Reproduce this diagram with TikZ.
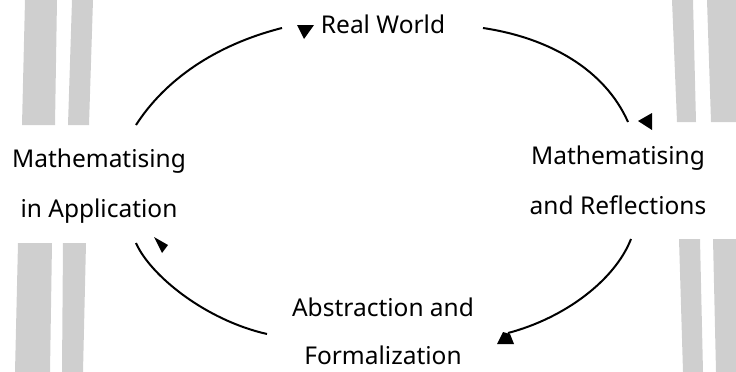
\documentclass[tikz,border=0pt]{standalone}
\usepackage{fontspec}
\setmainfont{Noto Sans}
\definecolor{barg}{RGB}{207,207,207}
\begin{document}
\begin{tikzpicture}[x=1pt,y=-1pt,
  lbl/.style={font={\fontsize{24.5}{50}\selectfont}, align=center, inner sep=0pt, anchor=base, text depth=0pt},
  arcline/.style={line width=2pt},
  head/.style={fill=black},
  bar/.style={fill=barg}]
\useasboundingbox (0,0) rectangle (736,372);
% gray bars
\fill[bar] (25,0) -- (57,0) -- (55,125) -- (22,125) -- cycle;
\fill[bar] (72,0) -- (93,0) -- (89,125) -- (68,125) -- cycle;
\fill[bar] (672,0) -- (693,0) -- (696,122) -- (677,122) -- cycle;
\fill[bar] (707,0) -- (736,0) -- (736,122) -- (711,122) -- cycle;
\fill[bar] (18,243) -- (52,243) -- (50,372) -- (15,372) -- cycle;
\fill[bar] (63,243) -- (86,243) -- (83,372) -- (62,372) -- cycle;
\fill[bar] (679,239) -- (700,239) -- (703,372) -- (683,372) -- cycle;
\fill[bar] (713,239) -- (736,239) -- (736,372) -- (716,372) -- cycle;
% labels (base anchor = baseline of the last line)
\node[lbl] (rw) at (383,33) {Real World};
\node[lbl] (app) at (99,217) {Mathematising\\in Application};
\node[lbl] (refl) at (618,214) {Mathematising\\and Reflections};
\node[lbl, font={\fontsize{24.5}{48}\selectfont}] (abs) at (383,364.5) {Abstraction and\\Formalization};
% connector end points
\coordinate (a1) at (136,125);
\coordinate (a2) at (282,28);
\coordinate (b1) at (483,28);
\coordinate (b2) at (628,122);
\coordinate (c1) at (631,239);
\coordinate (c2) at (508,333);
\coordinate (d1) at (267,334);
\coordinate (d2) at (136,243);
% arcs
\draw[arcline] (a1) .. controls (165,80) and (215,45) .. (a2);
\draw[arcline] (b1) .. controls (550,38) and (605,70) .. (b2);
\draw[arcline] (c1) .. controls (615,280) and (565,318) .. (c2);
\draw[arcline] (d1) .. controls (205,320) and (150,275) .. (d2);
% arrowheads
\fill[head] (297,25) -- (314,25) -- (304,39) -- cycle;
\fill[head] (638,121) -- (652,113) -- (652,130) -- cycle;
\fill[head] (497,344) -- (514,344) -- (510,334) -- (503,332) -- cycle;
\fill[head] (154,237) -- (168,245) -- (162,253) -- cycle;
\end{tikzpicture}
\end{document}
